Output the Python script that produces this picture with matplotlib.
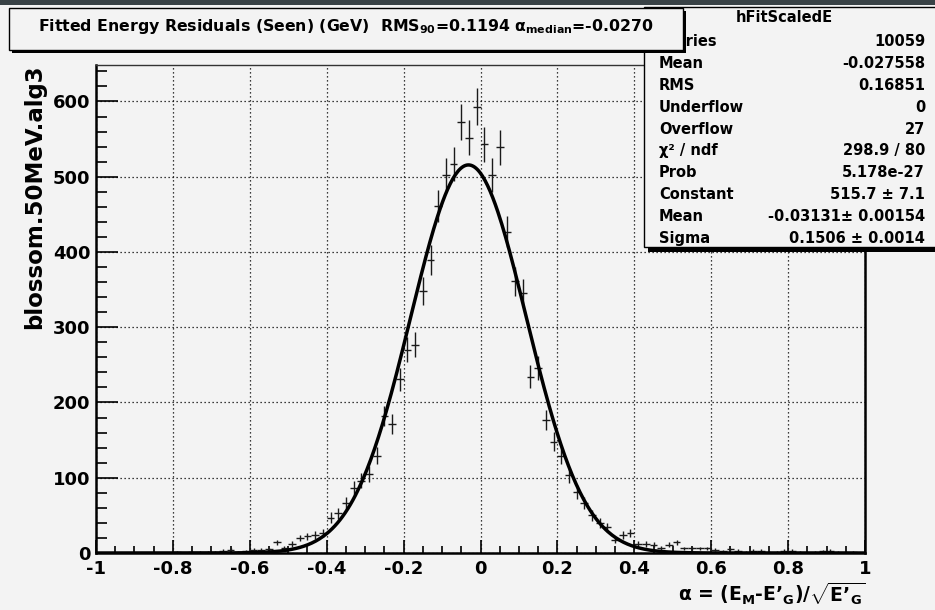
import numpy as np
import matplotlib
matplotlib.use('Agg')
import matplotlib.pyplot as plt
from matplotlib.patches import Rectangle
from matplotlib.ticker import MultipleLocator

# bin centres (100 bins of 0.02 between -1 and 1)
bin_centers = np.linspace(-0.99, 0.99, 100)
# counts
counts = [0, 0, 0, 0, 0, 0, 0, 0, 0, 0,
          1, 0, 1, 1, 1,
          1, 3, 4, 1, 2, 4, 4, 5, 14, 7,
          12, 20, 22, 24, 27, 47, 53, 66, 86, 96,
          105, 129, 182, 171, 231, 270, 277, 348, 389, 461,
          502, 517, 573, 552, 593, 543, 502, 539, 427, 361,
          345, 234, 246, 177, 148, 129, 103, 81, 66, 50,
          40, 34, 17, 24, 27, 12, 12, 11, 7, 11,
          14, 6, 6, 6, 6, 4, 2, 5, 3, 1,
          3, 3, 1, 1, 3, 3, 1, 1, 1, 2,
          3, 1, 1, 1, 0]
counts = np.array(counts, dtype=float)

# gaussian fit parameters from the stats box
fit_const = 515.7
fit_mean = -0.03131
fit_sigma = 0.1506

stat_labels = ['Entries', 'Mean', 'RMS', 'Underflow', 'Overflow',
               'χ² / ndf', 'Prob', 'Constant', 'Mean', 'Sigma']
stat_values = ['10059', '-0.027558', '0.16851', '0', '27', '298.9 / 80',
               '5.178e-27', '515.7 ± 7.1', '-0.03131± 0.00154', '0.1506 ± 0.0014']

W, H = 935, 610
bg = '#f3f3f3'

plt.rcParams['font.family'] = ['DejaVu Sans']
plt.rcParams['mathtext.fontset'] = 'custom'
plt.rcParams['mathtext.rm'] = 'DejaVu Sans:bold'
plt.rcParams['mathtext.it'] = 'DejaVu Sans:bold'
plt.rcParams['mathtext.bf'] = 'DejaVu Sans:bold'

def fx(px):
    return px / W

def fy(py):
    return 1 - py / H

fig = plt.figure(figsize=(W / 100, H / 100), dpi=100, facecolor=bg)
ax = fig.add_axes([fx(96), fy(553), fx(865) - fx(96), fy(65) - fy(553)])
ax.set_facecolor(bg)

# histogram with error bars
ax.errorbar(bin_centers, counts, xerr=0.01, yerr=np.sqrt(counts),
            fmt='none', ecolor='#1a1a1a', elinewidth=1.0, capsize=0, zorder=3)

# fit curve
xf = np.linspace(-1, 1, 600)
yf = fit_const * np.exp(-0.5 * ((xf - fit_mean) / fit_sigma) ** 2)
ax.plot(xf, yf, color='black', lw=2.5, zorder=4, solid_capstyle='butt')

ax.set_xlim(-1, 1)
ax.set_ylim(0, 648.5)
ax.xaxis.set_major_locator(MultipleLocator(0.2))
ax.xaxis.set_minor_locator(MultipleLocator(0.05))
ax.yaxis.set_major_locator(MultipleLocator(100))
ax.yaxis.set_minor_locator(MultipleLocator(20))
ax.xaxis.set_major_formatter(plt.FuncFormatter(lambda v, p: f'{v:g}' if abs(v) > 1e-9 else '0'))

ax.grid(True, which='major', color='black', linestyle=(0, (1, 2.2)), lw=0.9)
ax.tick_params(axis='x', which='major', direction='in', length=9.5, width=1.2,
               labelsize=13, pad=5)
ax.tick_params(axis='x', which='minor', direction='in', length=5, width=1.2)
ax.tick_params(axis='y', which='major', direction='in', length=16, width=1.2,
               labelsize=13, pad=4)
ax.tick_params(axis='y', which='minor', direction='in', length=8, width=1.2)
for lab in ax.get_xticklabels() + ax.get_yticklabels():
    lab.set_fontweight('bold')
for side in ['left', 'bottom', 'right']:
    ax.spines[side].set_linewidth(1.8)
    ax.spines[side].set_color('black')
ax.spines['top'].set_linewidth(1.0)
ax.spines['top'].set_color('#333333')

# axis titles
fig.text(fx(35), fy(64), 'blossom.50MeV.alg3', rotation=90, ha='center', va='top',
         fontsize=16.5, fontweight='bold')
fig.text(fx(866), fy(594), r"$\alpha$ = (E$_{M}$-E’$_{G}$)/$\sqrt{\mathrm{E’}_{G}}$",
         ha='right', va='center', fontsize=13.5, fontweight='bold')

# dark strip at top of the screenshot
fig.patches.append(Rectangle((0, fy(5)), 1, 1 - fy(5), transform=fig.transFigure,
                             facecolor='#394246', edgecolor='none', zorder=1))

# stats box with shadow
fig.patches.append(Rectangle((fx(648), fy(252)), fx(300), fy(8) - fy(252),
                             transform=fig.transFigure, facecolor='black',
                             edgecolor='none', zorder=5))
fig.patches.append(Rectangle((fx(644), fy(247)), fx(300), fy(7) - fy(247),
                             transform=fig.transFigure, facecolor=bg,
                             edgecolor='black', lw=1.0, zorder=6))
fig.text(fx(784), fy(18), 'hFitScaledE', ha='center', va='center', fontsize=10.5,
         fontweight='bold', zorder=7)
for i, (lab, val) in enumerate(zip(stat_labels, stat_values)):
    yy = 42 + i * 21.8
    fig.text(fx(659), fy(yy), lab, ha='left', va='center', fontsize=10.5,
             fontweight='bold', zorder=7)
    fig.text(fx(925), fy(yy), val, ha='right', va='center', fontsize=10.5,
             fontweight='bold', zorder=7)

# title box with shadow
fig.patches.append(Rectangle((fx(12), fy(53)), fx(674), fy(11) - fy(53),
                             transform=fig.transFigure, facecolor='black',
                             edgecolor='none', zorder=8))
fig.patches.append(Rectangle((fx(9), fy(50)), fx(674), fy(8) - fy(50),
                             transform=fig.transFigure, facecolor=bg,
                             edgecolor='black', lw=1.0, zorder=9))
fig.text(fx(38), fy(27), r"Fitted Energy Residuals (Seen) (GeV)  RMS$_{90}$=0.1194 $\alpha_{median}$=-0.0270",
         ha='left', va='center', fontsize=11.3, fontweight='bold', zorder=10)

fig.savefig('out.png', dpi=100, facecolor=bg)
